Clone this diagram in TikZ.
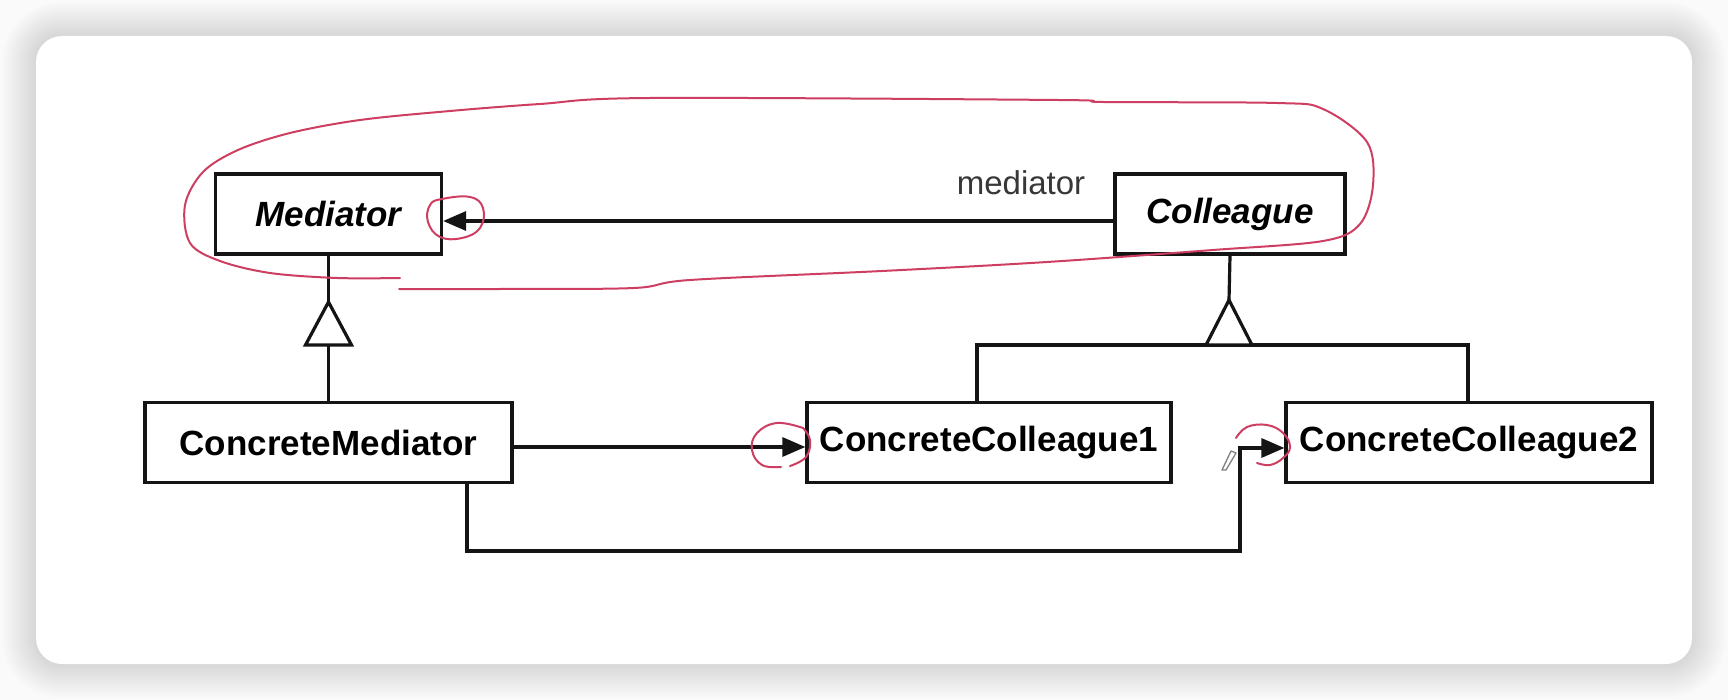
\documentclass[tikz,border=0pt]{standalone}
\usepackage{fontspec}
\setmainfont{Liberation Sans}
\usetikzlibrary{arrows.meta}
\definecolor{ink}{HTML}{141414}
\definecolor{pen}{RGB}{206,62,98}
\definecolor{pagebg}{HTML}{FAFAFA}
\tikzset{
  classbox/.style={draw=ink, line width=3.2pt, fill=white, rectangle, inner sep=0pt,
    minimum height=80pt, font=\fontsize{35}{40}\selectfont\bfseries},
  abstractbox/.style={classbox, font=\fontsize{35}{40}\selectfont\bfseries\itshape},
  link/.style={draw=ink, line width=3.2pt},
  navarrow/.style={link, -{Triangle[length=23pt,width=19pt]}},
  rolelabel/.style={font=\fontsize{33}{38}\selectfont, text=ink!85, inner sep=0pt},
  marker/.style={draw=pen, line width=2pt, line cap=round, line join=round}
}
\begin{document}
\begin{tikzpicture}[x=1pt,y=-1pt]
\useasboundingbox (0,0) rectangle (1728,700);
% page and card with a soft shadow
\fill[pagebg] (0,0) rectangle (1728,700);
\foreach \k in {2,4,...,34}{
  \fill[black, opacity=0.009, rounded corners=25+\k]
    (36-\k,36-\k) rectangle (1692+\k,664+\k);
}
\fill[white, rounded corners=26] (36,36) rectangle (1692,664);

% classes
\node[abstractbox, minimum width=226pt] (med) at (328.5,214) {Mediator};
\node[abstractbox, minimum width=230pt] (col) at (1230,214) {Colleague};
\node[classbox, minimum width=367pt] (cm) at (328.5,442.5) {ConcreteMediator};
\node[classbox, minimum width=364pt] (cc1) at (989,442.5) {ConcreteColleague1};
\node[classbox, minimum width=366pt] (cc2) at (1469,442.5) {ConcreteColleague2};
\node[rolelabel] (role) at (1021,183) {mediator};

% association Colleague -> Mediator
\draw[navarrow] ([yshift=-7pt]col.west) -- ([yshift=-7pt]med.east);

% generalisation Mediator <- ConcreteMediator
\coordinate (g1top) at (328.5,302);
\coordinate (g1base) at (328.5,345);
\draw[link] (med.south) -- (g1top);
\draw[link, fill=white] (g1top) -- ++(23,43) -- ++(-46,0) -- cycle;
\draw[link] (g1base) -- (cm.north);

% generalisation Colleague <- ConcreteColleague1/2
\coordinate (g2top) at (1229,300);
\coordinate (barL) at (977,345);
\coordinate (barR) at (1468,345);
\draw[link] (col.south) -- (g2top);
\draw[link] (barL |- cc1.north) -- (barL) -- (barR) -- (barR |- cc2.north);
\draw[link, fill=white] (g2top) -- ++(23,45) -- ++(-46,0) -- cycle;

% ConcreteMediator -> ConcreteColleague1 / ConcreteColleague2
\draw[navarrow] ([yshift=-4.5pt]cm.east) -- ([yshift=-4.5pt]cc1.west);
\coordinate (jog) at (1240,551);
\draw[navarrow] ([xshift=138.5pt]cm.south) |- (jog) |- ([yshift=-5.5pt]cc2.west);

% hand-drawn loop round the abstract pair
\draw[marker] plot[smooth, tension=0.55] coordinates {
  (399,289) (500,289) (634,288) (690,280) (882,271) (1047,262) (1213,250)
  (1323,241) (1360,224) (1373,185) (1367,142) (1323,109) (1277,103)
  (1103,102) (1058,100) (650,98) (540,104) (450,111) (360,120) (290,133)
  (238,150) (203,172) (185,205) (190,243) (220,261) (270,273) (337,278) (400,278)};

% hand-drawn rings round the arrow heads
\draw[marker] plot[smooth cycle, tension=0.7] coordinates {
  (442,199) (470,197) (483,208) (480,228) (462,238) (440,237) (428,222) (430,205)};
\draw[marker] plot[smooth, tension=0.7] coordinates {
  (803,428) (777,423) (757,433) (752,450) (762,465) (781,467)};
\draw[marker] plot[smooth, tension=0.7] coordinates {
  (790,466) (806,457) (810,440) (803,428)};
\draw[marker] plot[smooth, tension=0.7] coordinates {
  (1236,438) (1247,427) (1267,425) (1283,433) (1290,447) (1283,458)
  (1270,465) (1257,463)};

% pen cursor
\draw[gray, line width=1.3pt, line join=round] (1222,470) -- (1231,451) -- (1236,453) -- (1226,470) -- cycle;
\end{tikzpicture}
\end{document}
